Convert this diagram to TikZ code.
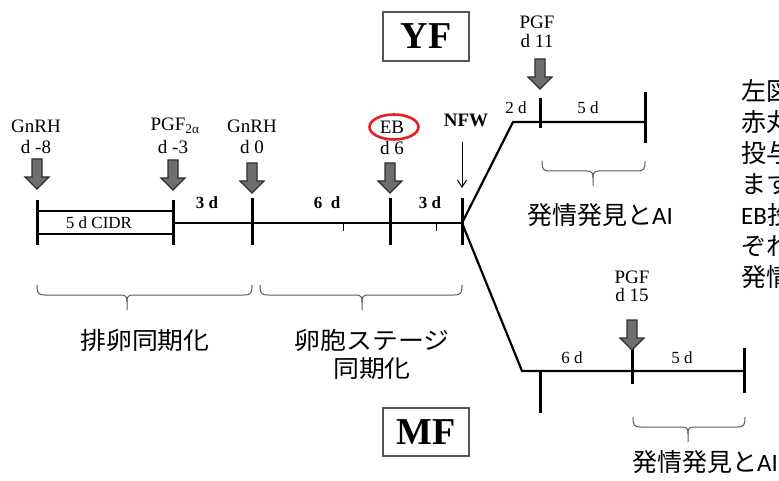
\documentclass[tikz,border=0pt]{standalone}
\usepackage{fontspec}
\newfontfamily\tnr{Liberation Serif}
\newfontfamily\jp{Noto Sans CJK JP}
\newfontfamily\jpw[FakeStretch=1.08]{Noto Sans CJK JP}
\newfontfamily\calfont{Carlito}
\usetikzlibrary{arrows.meta,shapes.geometric}
\definecolor{arrgray}{HTML}{6E6E6E}
\definecolor{arrdark}{HTML}{2E2E2E}
\definecolor{bracegray}{HTML}{5A5A5A}
\definecolor{boxgray}{HTML}{555555}
\definecolor{ringred}{HTML}{E81E25}
\newcommand\hbr[4]{% x1, x2, xtip, ytop
  \draw[bracestyle] (#1,#4) .. controls (#1,#4+8) and (#1+1,#4+10) .. (#1+8,#4+10)
     -- (#3-6,#4+10) .. controls (#3-1,#4+10) and (#3,#4+12) .. (#3,#4+17) -- (#3,#4+25);
  \draw[bracestyle] (#2,#4) .. controls (#2,#4+8) and (#2-1,#4+10) .. (#2-8,#4+10)
     -- (#3+6,#4+10) .. controls (#3+1,#4+10) and (#3,#4+12) .. (#3,#4+17);
}
\tikzset{
  blockarrow/.pic={\draw[fill=arrgray, draw=arrdark, line width=1.1pt, line join=miter]
     (-5,-30) -- (5,-30) -- (5,-12) -- (12,-12) -- (0,0) -- (-12,-12) -- (-5,-12) -- cycle;},
  bracestyle/.style={draw=bracegray, line width=1pt},
  tl/.style={line width=2.2pt, line join=miter},
  tk/.style={line width=3pt},
  lbl/.style={font=\tnr\fontsize{19}{19}\selectfont, inner sep=0pt},
  dlbl/.style={font=\tnr\bfseries\fontsize{17}{17}\selectfont, inner sep=0pt},
  slbl/.style={font=\tnr\fontsize{17}{17}\selectfont, inner sep=0pt},
  jlbl/.style={font=\jpw\fontsize{24}{24}\selectfont, inner sep=0pt},
  jtxt/.style={font=\jp\fontsize{25}{25}\selectfont, inner sep=0pt},
  grpbox/.style={draw=boxgray, line width=1.2pt, minimum width=86pt, inner sep=0pt,
     font=\tnr\bfseries\fontsize{38}{38}\selectfont},
}
\begin{document}
\begin{tikzpicture}[x=1pt,y=-1pt]
\useasboundingbox (0,0) rectangle (779,481);
\fill[white] (0,0) rectangle (779,481);
\clip (0,0) rectangle (779,481);

% key points
\coordinate (a) at (37,223);
\coordinate (b) at (173,223);
\coordinate (c) at (252,223);
\coordinate (d) at (390,223);
\coordinate (n) at (462,223);
\coordinate (u1) at (513,122);
\coordinate (u2) at (540,122);
\coordinate (u3) at (645,122);
\coordinate (l1) at (522,371);
\coordinate (l2) at (540,371);
\coordinate (l3) at (632,371);
\coordinate (l4) at (744,371);

% main timeline
\draw[tl] (b) -- (n);
\draw[tl] (37,211) -- (173,211);
\draw[tl] (37,234) -- (173,234);
\draw[tk] (37,200) -- (37,245);
\draw[tk] (173,200) -- (173,245);
\draw[tk] (252,198) -- (252,245);
\draw[tk] (390,198) -- (390,245);
\draw[tk] (462,198) -- (462,245);
\draw[line width=0.8pt] (343,224) -- (343,231);
\draw[line width=0.8pt] (436,224) -- (436,231);

% branches
\draw[tl] (u3) -- (u1) -- (n) -- (l1) -- (l4);
\draw[tk] (540,98) -- (540,128);
\draw[tk] (645,92) -- (645,143);
\draw[tk] (540,371) -- (540,413);
\draw[tk] (632,348) -- (632,384);
\draw[tk] (744,348) -- (744,393);

% block arrows
\pic at (37,189) {blockarrow};
\pic at (173,190) {blockarrow};
\pic at (252,193) {blockarrow};
\pic at (390,193) {blockarrow};
\pic at (540,89) {blockarrow};
\pic at (632,350) {blockarrow};

% NFW arrow
\node[font=\tnr\bfseries\fontsize{19}{19}\selectfont, inner sep=0pt] (nfw) at (466,120) {NFW};
\coordinate (nfwtop) at (462,142);
\coordinate (nfwtip) at (462,188);
\draw[line width=1pt, -{Straight Barb[length=7pt,width=9pt]}] (nfwtop) -- (nfwtip);

% labels above main line
\node[lbl] (g1) at (36,126) {GnRH};
\node[lbl] (g1d) at (36,147) {d -8};
\node[lbl] (p1) at (175,126) {PGF\textsubscript{2α}};
\node[lbl] (p1d) at (173,147) {d -3};
\node[lbl] (g2) at (252,126) {GnRH};
\node[lbl] (g2d) at (252,147) {d 0};
\node[lbl] (eb) at (392,127) {EB};
\node[lbl] (ebd) at (392,148) {d 6};
\node[draw=ringred, line width=2.6pt, ellipse, minimum width=49pt, minimum height=25pt, inner sep=0pt] (ring) at (394,127) {};

\node[slbl] (cidr) at (99,223) {5 d CIDR};
\node[dlbl] (s1) at (207,203) {3 d};
\node[dlbl] (s2) at (327,203) {6\ \ d};
\node[dlbl] (s3) at (430,203) {3 d};

% upper branch labels
\node[lbl] (p2) at (537,22) {PGF};
\node[lbl] (p2d) at (537,41) {d 11};
\node[slbl] (u2d) at (516,108) {2 d};
\node[slbl] (u5d) at (588,108) {5 d};

% lower branch labels
\node[lbl] (p3) at (632,277) {PGF};
\node[lbl] (p3d) at (632,295) {d 15};
\node[slbl] (l6d) at (572,358) {6 d};
\node[slbl] (l5d) at (682,358) {5 d};

% group boxes
\node[grpbox, minimum height=49pt] (yf) at (426,36.5) {YF};
\node[grpbox, minimum height=48pt] (mf) at (426,432) {MF};

% braces
\hbr{37}{252}{127}{285}
\hbr{260}{462}{362}{285}
\hbr{542}{645}{593}{161}
\hbr{633}{745}{688}{417}

% Japanese labels
\node[jlbl] (j1) at (145,340) {排卵同期化};
\node[jlbl] (j2) at (372,340) {卵胞ステージ};
\node[jlbl] (j3) at (372,369) {同期化};
\node[jtxt] (j4) at (600,215) {発情発見と{\calfont AI}};
\node[jtxt, anchor=west] (j5) at (632,462) {発情発見と{\calfont AI}};

% right-hand text (cut off by the edge, as in the reference)
\node[jtxt, anchor=west] (r1) at (741,91) {左図};
\node[jtxt, anchor=west] (r2) at (741,122) {赤丸};
\node[jtxt, anchor=west] (r3) at (741,153) {投与};
\node[jtxt, anchor=west] (r4) at (741,184) {ます};
\node[jtxt, anchor=west] (r5) at (741,215) {{\calfont EB}投};
\node[jtxt, anchor=west] (r6) at (741,246) {ぞれ};
\node[jtxt, anchor=west] (r7) at (741,277) {発情};
\end{tikzpicture}
\end{document}
